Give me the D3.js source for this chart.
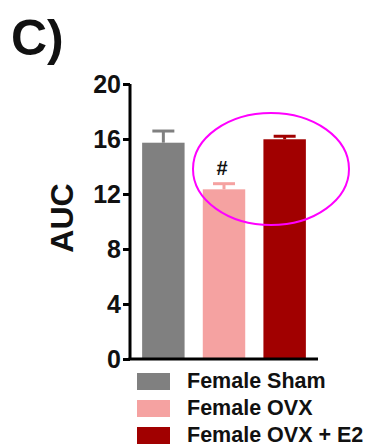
<!DOCTYPE html>
<html>
<head>
<meta charset="utf-8">
<script src="https://cdn.jsdelivr.net/npm/d3@7"></script>
<style>
  html, body { margin: 0; padding: 0; background: #fff; }
  svg { display: block; font-family: "Liberation Sans", Arial, sans-serif; }
</style>
</head>
<body>
<svg id="chart" width="370" height="446"></svg>
<script>
// Group means and SEM for the area under the curve
const groups = ["Female Sham", "Female OVX", "Female OVX + E2"];
const means = [15.73, 12.34, 15.98];
const sems = [0.85, 0.41, 0.22];
const colors = ["#808080", "#f5a2a1", "#a10000"];
const yTicks = [0, 4, 8, 12, 16, 20];
const marks = ["", "#", ""];

const svg = d3.select("#chart");

const x = d3.scaleBand().domain(groups).range([130, 318]).paddingInner(0.3).paddingOuter(0.2);
const y = d3.scaleLinear().domain([0, 20]).range([359, 84]);

// Panel label
svg.append("text").attr("x", 11).attr("y", 55)
  .attr("font-size", 50).attr("font-weight", "bold").attr("fill", "#111")
  .text("C)");

// Bars
svg.selectAll("rect.bar").data(groups).join("rect")
  .attr("class", "bar")
  .attr("x", d => x(d))
  .attr("width", x.bandwidth())
  .attr("y", (d, i) => y(means[i]))
  .attr("height", (d, i) => y(0) - y(means[i]))
  .attr("fill", (d, i) => colors[i]);

// Error bars (upper only)
const eb = svg.append("g");
groups.forEach((g, i) => {
  const cx = x(g) + x.bandwidth() / 2;
  eb.append("line").attr("x1", cx).attr("x2", cx)
    .attr("y1", y(means[i])).attr("y2", y(means[i] + sems[i]))
    .attr("stroke", colors[i]).attr("stroke-width", 3);
  eb.append("line").attr("x1", cx - 11).attr("x2", cx + 11)
    .attr("y1", y(means[i] + sems[i])).attr("y2", y(means[i] + sems[i]))
    .attr("stroke", colors[i]).attr("stroke-width", 3);
  if (marks[i]) {
    svg.append("text").attr("x", cx - 2).attr("y", y(means[i] + sems[i]) - 9)
      .attr("text-anchor", "middle").attr("font-size", 20).attr("font-weight", "bold")
      .attr("fill", "#111").text(marks[i]);
  }
});

// Y axis
const yAxis = svg.append("g").attr("transform", "translate(130,0)")
  .call(d3.axisLeft(y).tickValues(yTicks).tickSize(7).tickPadding(2).tickFormat(d3.format("d")));
yAxis.select(".domain").attr("stroke", "#000").attr("stroke-width", 3)
  .attr("d", `M0,${y(20)}V${y(0)}`);
yAxis.selectAll(".tick line").attr("stroke", "#000").attr("stroke-width", 3);
yAxis.selectAll(".tick text").attr("font-size", 25).attr("font-weight", "bold")
  .attr("fill", "#111").attr("font-family", "Liberation Sans, Arial, sans-serif");

// X axis baseline
svg.append("line").attr("x1", 128.5).attr("x2", 318).attr("y1", y(0)).attr("y2", y(0))
  .attr("stroke", "#000").attr("stroke-width", 3);

// Y axis title
svg.append("text").attr("transform", "translate(73,218) rotate(-90)")
  .attr("text-anchor", "middle").attr("font-size", 32).attr("font-weight", "bold")
  .attr("fill", "#111").text("AUC");

// Highlight ellipse around the OVX and OVX + E2 groups
svg.append("ellipse").attr("cx", 271).attr("cy", 169).attr("rx", 78).attr("ry", 56)
  .attr("fill", "none").attr("stroke", "#ff00ff").attr("stroke-width", 2);

// Legend
const leg = svg.append("g");
groups.forEach((g, i) => {
  const base = 388 + i * 27;
  leg.append("rect").attr("x", 137).attr("y", base - 15).attr("width", 33).attr("height", 17)
    .attr("fill", colors[i]);
  leg.append("text").attr("x", 187).attr("y", base)
    .attr("font-size", 21.5).attr("font-weight", "bold").attr("fill", "#111").text(g);
});
</script>
</body>
</html>
